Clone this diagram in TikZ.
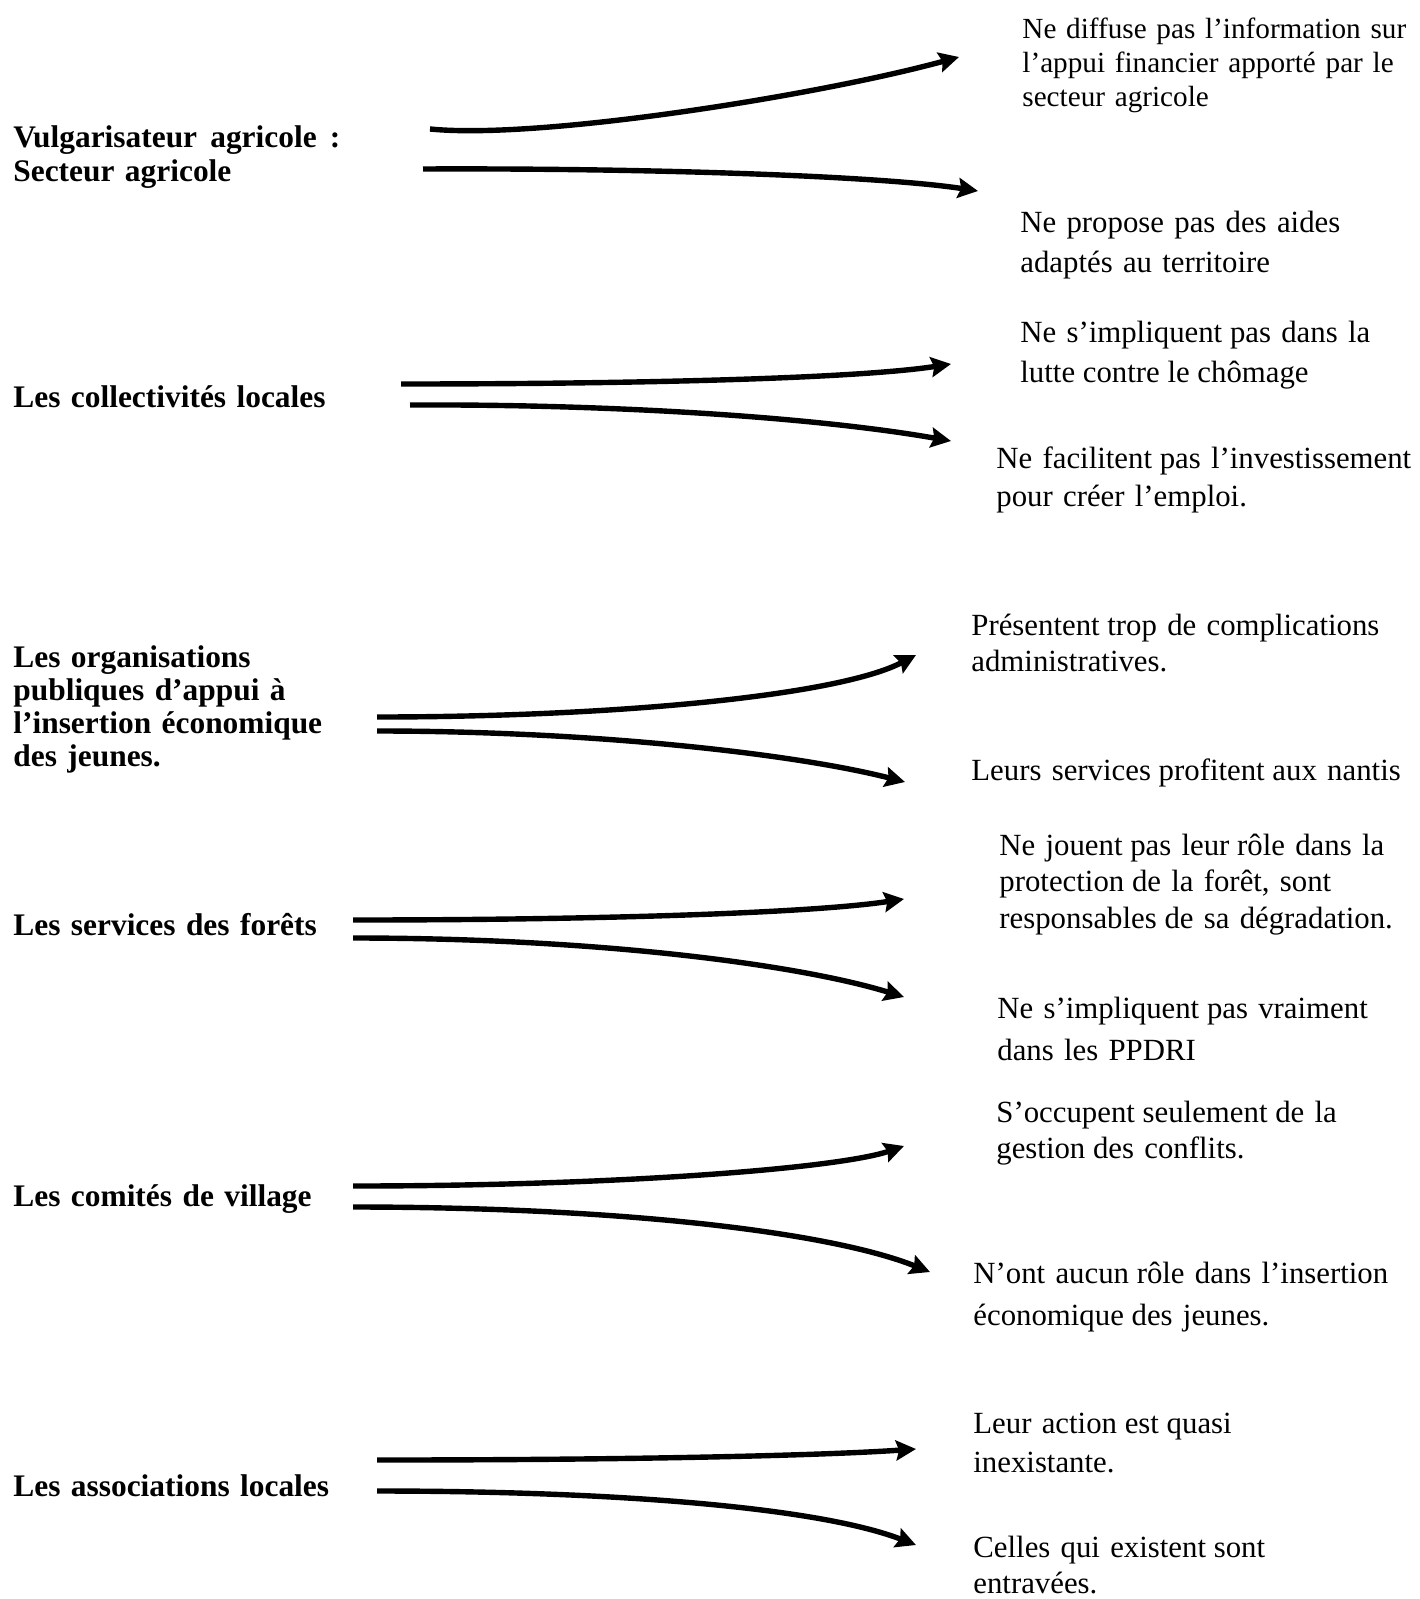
\documentclass[tikz,border=0pt]{standalone}
\usepackage{fontspec}
\setmainfont{Liberation Serif}
\usetikzlibrary{arrows.meta}
\newcommand{\dsp}{\hspace{0.25em}}
\newcommand{\dspw}{\hspace{0.42em}}
\begin{document}
\begin{tikzpicture}[x=0.5pt,y=-0.5pt,
  lbl/.style={anchor=base west,inner sep=0pt,text width=220pt,align=left,
    font=\fontsize{15.7}{#1}\selectfont\bfseries},
  txt/.style={anchor=base west,inner sep=0pt,text width=240pt,align=left,
    font=\fontsize{15.4}{#1}\selectfont},
  arr/.style={line width=2.7pt,-{Stealth[length=10pt,width=10pt,inset=1.5pt]}}]
\useasboundingbox (0,0) rectangle (1419,1599);
\fill[white] (0,0) rectangle (1419,1599);

% left labels
\node[lbl=17] (a1) at (13,148) {Vulgarisateur\dspw agricole\dspw :\\ Secteur agricole};
\node[lbl=16.5] (a2) at (13,407) {Les collectivités locales};
\node[lbl=16.5] (a3) at (13,667) {Les organisations\\ publiques d’appui à\\ l’insertion économique\\ des jeunes.};
\node[lbl=16.5] (a4) at (13,935) {Les services des forêts};
\node[lbl=16.5] (a5) at (13,1206) {Les comités de village};
\node[lbl=16.5] (a6) at (13,1496) {Les associations locales};

% right texts
\node[txt=17, font=\fontsize{14.6}{17}\selectfont] (t1) at (1022,39) {Ne diffuse pas l’information sur\\ l’appui financier apporté par le\\ secteur agricole};
\node[txt=20] (t2) at (1020,233) {Ne propose pas des aides\\ adaptés au territoire};
\node[txt=20] (t3) at (1020,343) {Ne s’impliquent\dsp pas dans la\\ lutte\dsp contre\dsp le\dsp chômage};
\node[txt=19] (t4) at (996,468) {Ne facilitent\dsp pas l’investissement\\ pour créer l’emploi.};
\node[txt=18] (t5) at (971,635) {Présentent\dsp trop de complications\\ administratives.};
\node[txt=18] (t6) at (971,780) {Leurs services\dsp profitent\dsp aux nantis};
\node[txt=18.25] (t7) at (999,855) {Ne jouent\dsp pas leur\dsp rôle dans la\\ protection\dsp de la forêt, sont\\ responsables\dsp de sa dégradation.};
\node[txt=21] (t8) at (997,1018) {Ne s’impliquent\dsp pas vraiment\\ dans les PPDRI};
\node[txt=18] (t9) at (996,1122) {S’occupent\dsp seulement\dsp de la\\ gestion\dsp des conflits.};
\node[txt=21] (t10) at (973,1283) {N’ont aucun\dsp rôle dans l’insertion\\ économique\dsp des jeunes.};
\node[txt=19.5] (t11) at (973,1433) {Leur action\dsp est\dsp quasi\\ inexistante.};
\node[txt=18] (t12) at (973,1557) {Celles qui existent\dsp sont\\ entravées.};

% arrow end points
\coordinate (s1a) at (430,129);  \coordinate (e1a) at (959,57);
\coordinate (s1b) at (423,169);  \coordinate (e1b) at (978,191);
\coordinate (s2a) at (401,384);  \coordinate (e2a) at (951,364);
\coordinate (s2b) at (410,405);  \coordinate (e2b) at (951,441);
\coordinate (s3a) at (377,717);  \coordinate (e3a) at (916,655);
\coordinate (s3b) at (377,731);  \coordinate (e3b) at (905,782);
\coordinate (s4a) at (353,920);  \coordinate (e4a) at (904,899);
\coordinate (s4b) at (353,938);  \coordinate (e4b) at (904,997);
\coordinate (s5a) at (353,1186); \coordinate (e5a) at (904,1146);
\coordinate (s5b) at (353,1207); \coordinate (e5b) at (930,1272);
\coordinate (s6a) at (377,1460); \coordinate (e6a) at (916,1449);
\coordinate (s6b) at (377,1491); \coordinate (e6b) at (916,1545);

% arrows
\draw[arr] (s1a) .. controls (540,140) and (820,95) .. (e1a);
\draw[arr] (s1b) .. controls (650,168) and (880,176) .. (e1b);
\draw[arr] (s2a) .. controls (650,384) and (860,378) .. (e2a);
\draw[arr] (s2b) .. controls (620,404) and (820,418) .. (e2b);
\draw[arr] (s3a) .. controls (620,717) and (840,695) .. (e3a);
\draw[arr] (s3b) .. controls (600,731) and (800,755) .. (e3b);
\draw[arr] (s4a) .. controls (620,920) and (820,912) .. (e4a);
\draw[arr] (s4b) .. controls (600,938) and (800,965) .. (e4b);
\draw[arr] (s5a) .. controls (620,1186) and (840,1168) .. (e5a);
\draw[arr] (s5b) .. controls (620,1207) and (830,1232) .. (e5b);
\draw[arr] (s6a) .. controls (650,1460) and (830,1455) .. (e6a);
\draw[arr] (s6b) .. controls (620,1491) and (820,1508) .. (e6b);
\end{tikzpicture}
\end{document}
